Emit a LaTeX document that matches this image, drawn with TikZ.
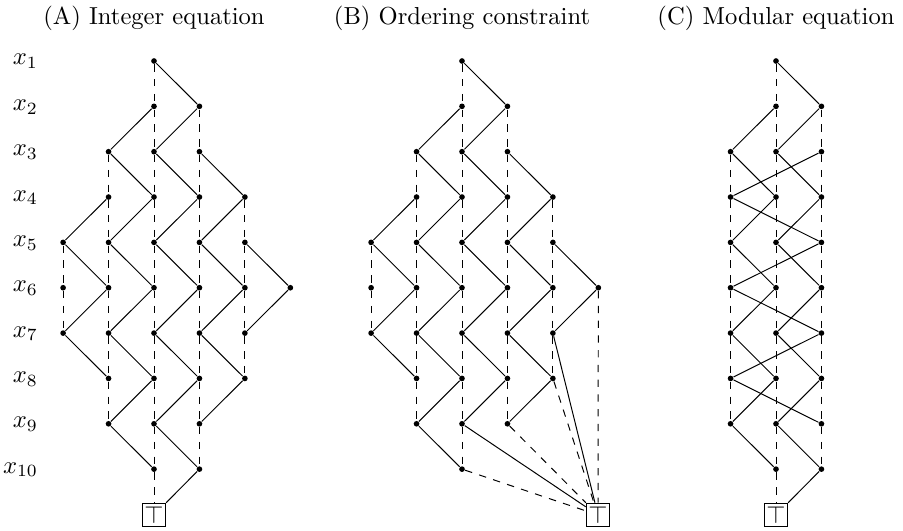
\documentclass[tikz,border=0pt]{standalone}
\begin{document}
\begin{tikzpicture}[x=0.4068pt,y=-0.4068pt,
  dot/.style={circle,fill,inner sep=0pt,minimum size=2.3pt},
  zero/.style={dashed},
  one/.style={},
  term/.style={draw,rectangle,inner sep=0pt,minimum size=9.6pt},
  lab/.style={anchor=base east,inner sep=0pt},
  head/.style={anchor=base,inner sep=0pt}]
\path[use as bounding box] (0,0) rectangle (903,531);
% headings
\node[head] (hA) at (154,24.5) {(A) Integer equation};
\node[head] (hB) at (462,24.5) {(B) Ordering constraint};
\node[head] (hC) at (776,24.5) {(C) Modular equation};
% row labels
\foreach \r in {1,...,10}
  \node[lab] (lab\r) at (38.5,{19.65+45.35*\r}) {$x_{\r}$};
% nodes of A and B
\foreach \r/\ks in {1/{2},2/{2,3},3/{1,2,3},4/{1,2,3,4},5/{0,1,2,3,4},6/{0,1,2,3,4,5},7/{0,1,2,3,4},8/{1,2,3,4},9/{1,2,3},10/{2,3}}
  \foreach \k in \ks
    \node[dot] (A\r-\k) at ({154+(\k-2)*45.45},{15.65+45.35*\r}) {};
\foreach \r/\ks in {1/{2},2/{2,3},3/{1,2,3},4/{1,2,3,4},5/{0,1,2,3,4},6/{0,1,2,3,4,5},7/{0,1,2,3,4},8/{1,2,3,4},9/{1,2,3},10/{2}}
  \foreach \k in \ks
    \node[dot] (B\r-\k) at ({462+(\k-2)*45.45},{15.65+45.35*\r}) {};
\foreach \r/\ks in {1/{1},2/{1,2},3/{0,1,2},4/{0,1,2},5/{0,1,2},6/{0,1,2},7/{0,1,2},8/{0,1,2},9/{0,1,2},10/{1,2}}
  \foreach \k in \ks
    \node[dot] (C\r-\k) at ({776+(\k-1)*45.45},{15.65+45.35*\r}) {};
% terminals
\node[term] (AT) at (154,515) {$\top$};
\node[term] (BT) at (598,515) {$\top$};
\node[term] (CT) at (776,515) {$\top$};
% A edges
\foreach \a/\b in {1-2/2-3, 2-2/3-1, 2-3/3-2, 3-1/4-2, 3-2/4-3, 3-3/4-4, 4-1/5-0, 4-2/5-1, 4-3/5-2, 4-4/5-3, 5-0/6-1, 5-1/6-2, 5-2/6-3, 5-3/6-4, 5-4/6-5, 6-1/7-0, 6-2/7-1, 6-3/7-2, 6-4/7-3, 6-5/7-4, 7-0/8-1, 7-1/8-2, 7-2/8-3, 7-3/8-4, 8-2/9-1, 8-3/9-2, 8-4/9-3, 9-1/10-2, 9-2/10-3, 10-3/T}
  \draw[one] (A\a) -- (A\b);
\foreach \a/\b in {1-2/2-2, 2-2/3-2, 2-3/3-3, 3-1/4-1, 3-2/4-2, 3-3/4-3, 4-1/5-1, 4-2/5-2, 4-3/5-3, 4-4/5-4, 5-0/6-0, 5-1/6-1, 5-2/6-2, 5-3/6-3, 5-4/6-4, 6-0/7-0, 6-1/7-1, 6-2/7-2, 6-3/7-3, 6-4/7-4, 7-1/8-1, 7-2/8-2, 7-3/8-3, 7-4/8-4, 8-1/9-1, 8-2/9-2, 8-3/9-3, 9-2/10-2, 9-3/10-3, 10-2/T}
  \draw[zero] (A\a) -- (A\b);
% B edges
\foreach \a/\b in {1-2/2-3, 2-2/3-1, 2-3/3-2, 3-1/4-2, 3-2/4-3, 3-3/4-4, 4-1/5-0, 4-2/5-1, 4-3/5-2, 4-4/5-3, 5-0/6-1, 5-1/6-2, 5-2/6-3, 5-3/6-4, 5-4/6-5, 6-1/7-0, 6-2/7-1, 6-3/7-2, 6-4/7-3, 6-5/7-4, 7-0/8-1, 7-1/8-2, 7-2/8-3, 7-3/8-4, 7-4/T, 8-2/9-1, 8-3/9-2, 8-4/9-3, 9-1/10-2, 9-2/T}
  \draw[one] (B\a) -- (B\b);
\foreach \a/\b in {1-2/2-2, 2-2/3-2, 2-3/3-3, 3-1/4-1, 3-2/4-2, 3-3/4-3, 4-1/5-1, 4-2/5-2, 4-3/5-3, 4-4/5-4, 5-0/6-0, 5-1/6-1, 5-2/6-2, 5-3/6-3, 5-4/6-4, 6-0/7-0, 6-1/7-1, 6-2/7-2, 6-3/7-3, 6-4/7-4, 6-5/T, 7-1/8-1, 7-2/8-2, 7-3/8-3, 7-4/8-4, 8-1/9-1, 8-2/9-2, 8-3/9-3, 8-4/T, 9-2/10-2, 9-3/T, 10-2/T}
  \draw[zero] (B\a) -- (B\b);
% C edges
\foreach \a/\b in {1-1/2-2, 2-1/3-0, 2-2/3-1, 3-0/4-1, 3-1/4-2, 3-2/4-0, 4-0/5-2, 4-1/5-0, 4-2/5-1, 5-0/6-1, 5-1/6-2, 5-2/6-0, 6-0/7-2, 6-1/7-0, 6-2/7-1, 7-0/8-1, 7-1/8-2, 7-2/8-0, 8-0/9-2, 8-1/9-0, 8-2/9-1, 9-0/10-1, 9-1/10-2, 10-2/T}
  \draw[one] (C\a) -- (C\b);
\foreach \a/\b in {1-1/2-1, 2-1/3-1, 2-2/3-2, 9-1/10-1, 9-2/10-2, 10-1/T}
  \draw[zero] (C\a) -- (C\b);
\foreach \r [evaluate=\r as \s using int(\r+1)] in {3,...,8}
  \foreach \k in {0,1,2}
    \draw[zero] (C\r-\k) -- (C\s-\k);
\end{tikzpicture}
\end{document}
